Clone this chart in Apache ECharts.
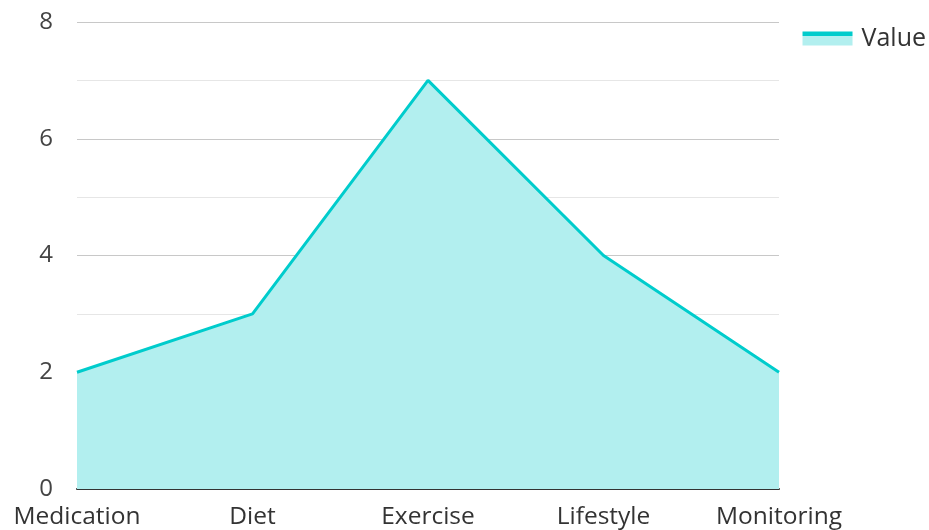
<!DOCTYPE html>
<html><head><meta charset="utf-8">
<script src="https://cdn.jsdelivr.net/npm/echarts@6/dist/echarts.min.js"></script>
<style>html,body{margin:0;padding:0;background:#fff}#c{width:929px;height:530px}</style>
</head><body><div id="c"></div>
<script>
const categories = ["Medication", "Diet", "Exercise", "Lifestyle", "Monitoring"];
const values = [2, 3, 7, 4, 2];
const seriesName = "Value";
const lineColor = '#00cccc';
const areaColor = '#b2efef';
const chart = echarts.init(document.getElementById('c'));
chart.setOption({
  animation: false,
  textStyle: {fontFamily: 'Open Sans'},
  legend: {
    right: 3, top: 26, padding: 0, itemWidth: 50, itemHeight: 14, itemGap: 10,
    icon: 'rect',
    itemStyle: {
      color: {type: 'linear', x: 0, y: 0, x2: 0, y2: 1, colorStops: [
        {offset: 0, color: lineColor}, {offset: 0.29, color: lineColor},
        {offset: 0.29, color: areaColor}, {offset: 1, color: areaColor}
      ]}
    },
    lineStyle: {width: 0},
    textStyle: {fontSize: 25, color: '#333', fontFamily: 'Open Sans', padding: [0, 0, 0, 4]},
    data: [seriesName]
  },
  grid: {left: 77, right: 150, top: 22, bottom: 41},
  xAxis: {
    type: 'category', data: categories, boundaryGap: false,
    axisLine: {lineStyle: {color: '#333', width: 2}},
    axisTick: {show: false},
    axisLabel: {fontSize: 24.5, color: '#333', margin: 16, interval: 0}
  },
  yAxis: {
    type: 'value', min: 0, max: 8, interval: 2,
    axisLine: {show: false}, axisTick: {show: false},
    axisLabel: {fontSize: 24, color: '#444', margin: 24},
    splitLine: {lineStyle: {color: '#c8c8c8', width: 1}},
    minorTick: {show: false, splitNumber: 2},
    minorSplitLine: {show: true, lineStyle: {color: '#e6e6e6', width: 1}}
  },
  series: [{
    name: seriesName, type: 'line', data: values, symbol: 'none',
    lineStyle: {color: lineColor, width: 3},
    itemStyle: {color: lineColor},
    areaStyle: {color: areaColor, opacity: 1}
  }]
});
</script></body></html>
